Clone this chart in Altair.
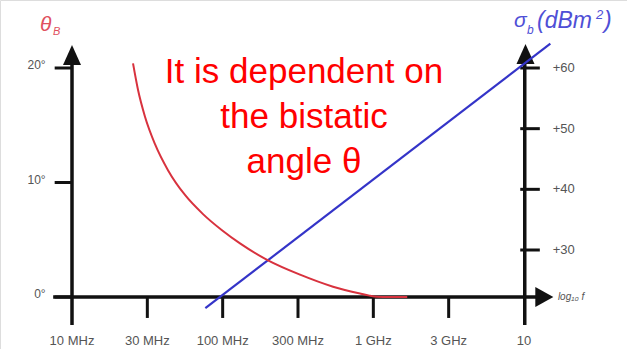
import altair as alt
import pandas as pd

# Frequency axis: equally spaced decade/half-decade steps
freq_labels = ["10 MHz", "30 MHz", "100 MHz", "300 MHz", "1 GHz", "3 GHz", "10"]
freq_pos = [0, 1, 2, 3, 4, 5, 6]

# Left axis: bistatic angle (degrees)
theta_ticks = [0, 10, 20]
theta_labels = ["0°", "10°", "20°"]

# Right axis: bistatic RCS (dBm^2)
sigma_ticks = [30, 40, 50, 60]
sigma_labels = ["+30", "+40", "+50", "+60"]

# Bistatic angle vs frequency
curve_u = [0.81, 0.876, 0.969, 1.102, 1.274, 1.50, 1.739, 1.991, 2.23, 2.602, 3.027,
           3.465, 3.823, 3.95, 4.05, 4.2, 4.45]
curve_deg = [20.4, 18.1, 15.75, 13.35, 11.08, 8.91, 7.24, 5.83, 4.68, 3.2, 1.95,
             0.9, 0.3, 0.12, 0.03, 0.0, 0.0]

# Bistatic RCS vs frequency
rcs_u = [1.77, 6.35]
rcs_db = [20.4, 64.0]

note_lines = ["It is dependent on", "the bistatic", "angle θ"]

INK = "#111111"
LABEL = "#555555"
RED = "#d8323e"
BLUE = "#3434c8"
FONT = "Liberation Sans"

X = alt.Scale(domain=[0, 6], range=[72, 524], nice=False, zero=False)
YT = alt.Scale(domain=[0, 20], range=[297, 68], nice=False, zero=False)
YS = alt.Scale(domain=[30, 60], range=[250, 68], nice=False, zero=False)

one = pd.DataFrame({"k": [0]})
freq_df = pd.DataFrame({"pos": freq_pos, "label": freq_labels})
theta_df = pd.DataFrame({"deg": theta_ticks, "label": theta_labels})
sigma_df = pd.DataFrame({"db": sigma_ticks, "label": sigma_labels})
curve_df = pd.DataFrame({"u": curve_u, "deg": curve_deg})
rcs_df = pd.DataFrame({"u": rcs_u, "db": rcs_db})


def xd(v):
    return alt.XDatum(v, type="quantitative", scale=X, axis=None)


def yd(v, s=YT):
    return alt.YDatum(v, type="quantitative", scale=s, axis=None)


xf = alt.X("pos:Q", scale=X, axis=None)

# axis frame
left_axis = alt.Chart(one).mark_rule(color=INK, strokeWidth=3.5).encode(
    x=xd(0), y=yd(-2.45), y2=alt.Y2Datum(21.0))
right_axis = alt.Chart(one).mark_rule(color=INK, strokeWidth=3.5).encode(
    x=xd(6.01), y=yd(-2.45), y2=alt.Y2Datum(21.1))
base_axis = alt.Chart(one).mark_rule(color=INK, strokeWidth=3.5).encode(
    x=xd(-0.25), x2=alt.X2Datum(6.2), y=yd(0))

up_arrow = "M-0.9,1L0.9,1L0,-1Z"
right_arrow = "M-0.9,-1L0.9,0L-0.9,1Z"
arrow_l = alt.Chart(one).mark_point(shape=up_arrow, filled=True, size=400, color=INK, opacity=1).encode(
    x=xd(0), y=yd(21.14))
arrow_r = alt.Chart(one).mark_point(shape=up_arrow, filled=True, size=400, color=INK, opacity=1).encode(
    x=xd(6.02), y=yd(21.22))
arrow_x = alt.Chart(one).mark_point(shape=right_arrow, filled=True, size=400, color=INK, opacity=1).encode(
    x=xd(6.27), y=yd(0))

# ticks
theta_tick = alt.Chart(theta_df).mark_rule(color=INK, strokeWidth=3).encode(
    x=xd(-0.23), x2=alt.X2Datum(0), y=alt.Y("deg:Q", scale=YT, axis=None))
sigma_tick = alt.Chart(sigma_df).mark_rule(color=INK, strokeWidth=3).encode(
    x=xd(5.95), x2=alt.X2Datum(6.21), y=alt.Y("db:Q", scale=YS, axis=None))
freq_tick = alt.Chart(freq_df[(freq_df.pos > 0) & (freq_df.pos < 6)]).mark_rule(color=INK, strokeWidth=3).encode(
    x=xf, y=yd(0), y2=alt.Y2Datum(-1.83))

# tick labels
theta_text = alt.Chart(theta_df).mark_text(align="right", baseline="middle", dy=-3, fontSize=12,
                                           font=FONT, color=LABEL).encode(
    x=xd(-0.35), y=alt.Y("deg:Q", scale=YT, axis=None), text="label:N")
sigma_text = alt.Chart(sigma_df).mark_text(align="left", baseline="middle", fontSize=13,
                                           font=FONT, color=LABEL).encode(
    x=xd(6.38), y=alt.Y("db:Q", scale=YS, axis=None), text="label:N")
freq_text = alt.Chart(freq_df).mark_text(align="center", baseline="middle", fontSize=13,
                                         font=FONT, color=LABEL).encode(
    x=xf, y=yd(-3.84), text="label:N")
log_text = alt.Chart(one).mark_text(align="left", baseline="middle", fontSize=10, font=FONT,
                                    color=LABEL, fontStyle="italic").encode(
    x=xd(6.45), y=yd(0), text=alt.value("log₁₀ f"))

# data series
rcs_line = alt.Chart(rcs_df).mark_line(color=BLUE, strokeWidth=2.2).encode(
    x=alt.X("u:Q", scale=X, axis=None), y=alt.Y("db:Q", scale=YS, axis=None))
angle_line = alt.Chart(curve_df).mark_line(color=RED, strokeWidth=2, interpolate="monotone").encode(
    x=alt.X("u:Q", scale=X, axis=None), y=alt.Y("deg:Q", scale=YT, axis=None))

# axis titles
def txt(s, x, y, size, color, align="left", style="italic"):
    return alt.Chart(one).mark_text(align=align, baseline="middle", fontSize=size, font=FONT,
                                    color=color, fontStyle=style).encode(
        x=alt.value(x), y=alt.value(y), text=alt.value(s))


TRED = "#e0505e"
TBLUE = "#4f4fd6"
titles = [
    txt("θ", 40, 25, 21, TRED),
    txt("B", 53, 32, 11, TRED),
    txt("σ", 514, 21, 21, TBLUE),
    txt("b", 527, 30, 12, TBLUE),
    txt("(dBm", 537, 21, 23, TBLUE),
    txt("2", 596, 15, 13, TBLUE),
    txt(")", 604, 21, 23, TBLUE),
]

note = alt.Chart(one).mark_text(align="center", baseline="alphabetic", fontSize=35, font=FONT,
                                color="#ff0000", lineBreak="\n", lineHeight=45).encode(
    x=alt.value(304), y=alt.value(83), text=alt.value("\n".join(note_lines)))

layers = [left_axis, right_axis, base_axis, arrow_l, arrow_r, arrow_x,
          theta_tick, sigma_tick, freq_tick,
          theta_text, sigma_text, freq_text, log_text,
          rcs_line, angle_line] + titles + [note]

chart = alt.layer(*layers).resolve_scale(y="independent").properties(
    width=627, height=349, autosize="none", padding=0
).configure_view(stroke=None).configure(background="white")

chart.save("out.html", embed_options={"renderer": "svg", "actions": False})
